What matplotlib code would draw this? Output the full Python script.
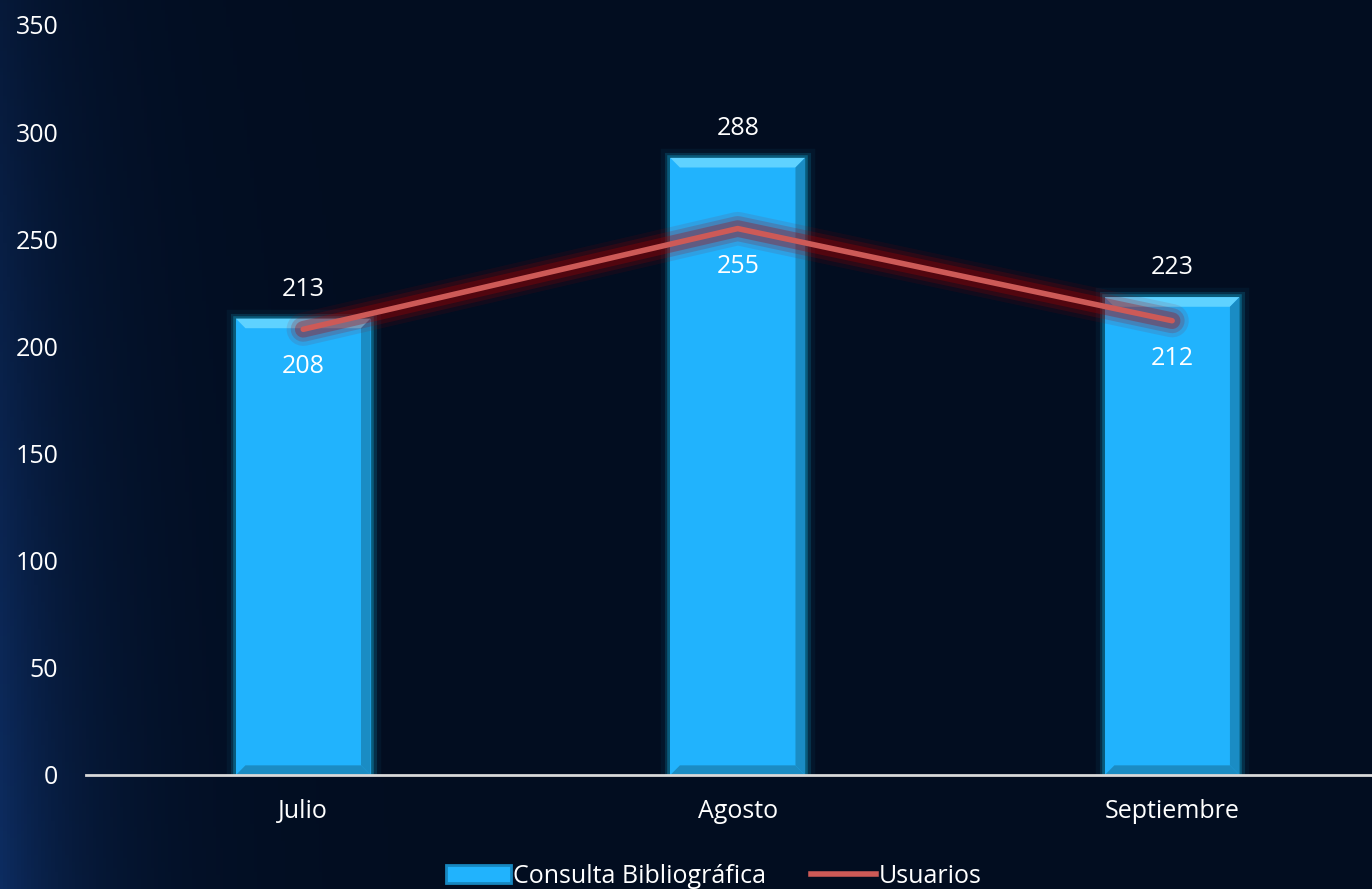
import matplotlib.pyplot as plt
import matplotlib.patheffects as pe
from matplotlib.patches import Polygon, Patch
from matplotlib.lines import Line2D
import numpy as np

plt.rcParams['font.family'] = ['Open Sans', 'DejaVu Sans']

meses = ['Julio', 'Agosto', 'Septiembre']
consultas = [213, 288, 223]
usuarios = [208, 255, 212]

azul = '#21b3fd'
azul_claro = '#5fd2ff'
azul_oscuro = '#1a8cc4'
rojo = '#cd5a57'
fondo = '#020d20'

fig = plt.figure(figsize=(13.72, 8.89), dpi=100)
fig.patch.set_facecolor(fondo)

# fondo con degradado azul a la izquierda
bg = fig.add_axes([0, 0, 1, 1], zorder=-5)
gx, gy = np.meshgrid(np.linspace(0, 1, 400), np.linspace(0, 1, 260))
base = np.array([2, 13, 32]) / 255
brillo = np.exp(-gx / 0.07) * (0.25 + 0.55 * gy) + 0.12 * np.exp(-gx / 0.05)
img = base + brillo[..., None] * (np.array([12, 34, 70]) / 255)
bg.imshow(np.clip(img, 0, 1), aspect='auto', extent=(0, 1, 0, 1))
bg.axis('off')

ax = fig.add_axes([86 / 1372, 114 / 889, 1 - 86 / 1372, 750 / 889])
ax.set_facecolor('none')

x = np.arange(len(meses))
ancho = 0.31
barras = ax.bar(x, consultas, width=ancho, color=azul, zorder=3)
for b in barras:
    b.set_path_effects([
        pe.Stroke(linewidth=14, foreground='#0a4f6a', alpha=0.15),
        pe.Stroke(linewidth=8, foreground='#0b6e90', alpha=0.3),
        pe.Stroke(linewidth=4, foreground='#0e7fa5', alpha=0.55),
        pe.Normal(),
    ])
    x0, w, h = b.get_x(), b.get_width(), b.get_height()
    dx, dy = 0.022, 4.5
    # bisel: arriba, derecha, abajo
    ax.add_patch(Polygon([(x0, h), (x0 + w, h), (x0 + w - dx, h - dy), (x0 + dx, h - dy)],
                         closed=True, color=azul_claro, lw=0, zorder=4))
    ax.add_patch(Polygon([(x0 + w, h), (x0 + w, 0), (x0 + w - dx, dy), (x0 + w - dx, h - dy)],
                         closed=True, color=azul_oscuro, lw=0, zorder=4))
    ax.add_patch(Polygon([(x0, 0), (x0 + w, 0), (x0 + w - dx, dy), (x0 + dx, dy)],
                         closed=True, color='#1b8cc3', lw=0, zorder=4))

# linea con brillo rojo
for lw, a in [(24, 0.1), (18, 0.18), (12, 0.3)]:
    ax.plot(x, usuarios, color='#a80000', lw=lw, alpha=a, solid_capstyle='round', zorder=5)
ax.plot(x, usuarios, color=rojo, lw=4, solid_capstyle='round', zorder=6)

for xi, v in zip(x, consultas):
    ax.annotate(str(v), (xi, v), xytext=(0, 21), textcoords='offset points',
                ha='center', va='center', color='white', fontsize=18, zorder=7)
for xi, v in zip(x, usuarios):
    ax.annotate(str(v), (xi, v), xytext=(0, -27), textcoords='offset points',
                ha='center', va='center', color='white', fontsize=18, zorder=7)

ax.set_xlim(-0.5, 2.46)
ax.set_ylim(0, 350)
ax.set_yticks(range(0, 351, 50))
ax.set_xticks(x)
ax.set_xticklabels(meses)
ax.tick_params(axis='both', length=0, colors='white', labelsize=18)
ax.tick_params(axis='x', pad=17)
ax.tick_params(axis='y', pad=20)
for s in ['top', 'right', 'left']:
    ax.spines[s].set_visible(False)
ax.spines['bottom'].set_color('#d9d9d9')
ax.spines['bottom'].set_linewidth(2)
ax.spines['bottom'].set_zorder(8)

handles = [Patch(facecolor=azul, edgecolor='#1787c0', lw=2),
           Line2D([0], [0], color=rojo, lw=4)]
leg = fig.legend(handles, ['Consulta Bibliográfica', 'Usuarios'], loc='lower center',
                 bbox_to_anchor=(0.52, -0.025), ncol=2, frameon=False, fontsize=18,
                 labelcolor='white', handlelength=2.6, handletextpad=0.1, columnspacing=1.8)

fig.savefig('out.png', dpi=100, facecolor=fondo)
